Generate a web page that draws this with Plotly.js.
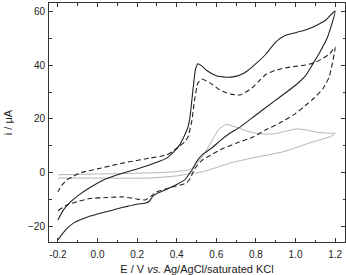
<!DOCTYPE html>
<html>
<head>
<meta charset="utf-8">
<script src="https://cdn.plot.ly/plotly-3.0.1.min.js"></script>
<style>html,body{margin:0;padding:0;background:#fff}#chart{width:346px;height:275px}</style>
</head>
<body>
<div id="chart"></div>
<script>
// Solid black CV (forward then reverse)
const solidE = [-0.2, -0.16, -0.12, -0.05, 0.0, 0.05, 0.1, 0.15, 0.2, 0.24, 0.26, 0.28, 0.3, 0.35, 0.4, 0.44, 0.467, 0.485, 0.5, 0.53, 0.583, 0.62, 0.67, 0.72, 0.8, 0.9, 1.0, 1.05, 1.09, 1.12, 1.16, 1.2,
  1.15, 1.1, 1.05, 1.0, 0.95, 0.9, 0.85, 0.8, 0.76, 0.72, 0.684, 0.65, 0.6, 0.552, 0.525, 0.507, 0.495, 0.482, 0.467, 0.455, 0.44, 0.43, 0.415, 0.38, 0.35, 0.3, 0.2, 0.13, 0.05, -0.04, -0.1, -0.14, -0.17, -0.2];
const solidI = [-24.8, -21, -18.5, -16.3, -15.2, -14.3, -13.3, -12.4, -11.6, -11.2, -10.6, -8.6, -7.6, -6.0, -4.3, -2.6, 0.0, 2.0, 4.1, 6.8, 9.6, 12.0, 14.8, 17.0, 21.5, 27.0, 32.5, 36.0, 40.7, 44.4, 50.0, 60.0,
  56.5, 54.5, 53.0, 52.0, 51.0, 48.5, 44.0, 40.5, 38.0, 36.3, 35.6, 35.5, 36.0, 38.0, 39.8, 40.5, 38.5, 30.7, 20.7, 16.5, 14.0, 12.5, 10.4, 7.4, 5.5, 4.0, 1.5, 0.0, -2.0, -5.5, -8.5, -11.0, -13.5, -17.4];

// Dashed black CV
const dashE = [-0.2, -0.155, -0.1, -0.04, 0.05, 0.13, 0.21, 0.24, 0.27, 0.3, 0.38, 0.45, 0.47, 0.49, 0.53, 0.57, 0.62, 0.7, 0.785, 0.85, 0.92, 1.0, 1.05, 1.09, 1.14, 1.17, 1.2,
  1.17, 1.14, 1.1, 1.05, 1.0, 0.95, 0.9, 0.85, 0.82, 0.78, 0.72, 0.67, 0.62, 0.57, 0.527, 0.507, 0.49, 0.477, 0.457, 0.44, 0.415, 0.38, 0.35, 0.265, 0.13, 0.0, -0.09, -0.13, -0.155, -0.18, -0.2];
const dashI = [-14.0, -11.9, -10.6, -9.5, -9.1, -8.9, -9.8, -10.0, -8.6, -7.0, -5.2, -3.7, -1.8, 1.5, 4.8, 6.5, 8.6, 11.0, 13.3, 16.0, 18.5, 22.0, 25.0, 27.5, 31.4, 35.6, 46.7,
  44.0, 42.6, 41.0, 40.0, 39.5, 39.0, 38.1, 36.5, 34.4, 31.5, 28.9, 29.3, 30.7, 33.3, 34.8, 33.3, 27.0, 19.6, 13.3, 11.5, 10.0, 8.0, 6.7, 5.5, 3.7, 1.5, 0.0, -1.6, -2.6, -4.5, -7.0];

// Grey CV
const greyE = [-0.2, 0.0, 0.2, 0.3, 0.38, 0.43, 0.46, 0.49, 0.52, 0.55, 0.58, 0.61, 0.65, 0.7, 0.77, 0.835, 0.9, 0.95, 1.005, 1.05, 1.1, 1.15, 1.2,
  1.18, 1.17, 1.07, 0.936, 0.785, 0.67, 0.6, 0.53, 0.45, 0.4, 0.26, 0.0, -0.2];
const greyI = [-0.7, -0.4, -0.1, 0.1, 0.4, 0.8, 1.1, 2.5, 5.0, 8.5, 12.2, 16.0, 18.0, 17.0, 15.2, 14.4, 14.6, 15.5, 16.3, 16.0, 15.2, 14.8, 14.6,
  13.6, 13.3, 11.1, 7.8, 5.6, 3.7, 2.0, 0.4, -0.5, -1.1, -1.9, -1.9, -1.9];

const xTickVals = [-0.2, 0.0, 0.2, 0.4, 0.6, 0.8, 1.0, 1.2];
const xTickText = ['-0.2', '0.0', '0.2', '0.4', '0.6', '0.8', '1.0', '1.2'];
const yTickVals = [-20, 0, 20, 40, 60];

const traces = [
  {x: greyE, y: greyI, mode: 'lines', line: {color: '#b4b4b4', width: 1, shape: 'spline', smoothing: 0.5}, hoverinfo: 'skip'},
  {x: dashE, y: dashI, mode: 'lines', line: {color: '#222', width: 1.1, dash: '5px,3px', shape: 'spline', smoothing: 0.5}, hoverinfo: 'skip'},
  {x: solidE, y: solidI, mode: 'lines', line: {color: '#222', width: 1.1, shape: 'spline', smoothing: 0.5}, hoverinfo: 'skip'}
];

const axisCommon = {
  showgrid: false, zeroline: false, showline: true, linecolor: '#333', linewidth: 1, mirror: 'allticks',
  ticks: 'inside', ticklen: 4, tickcolor: '#333', tickwidth: 1,
  tickfont: {family: 'Liberation Sans, Arial, sans-serif', size: 10, color: '#222'}
};

const layout = {
  width: 346, height: 275,
  margin: {l: 49, r: 1, t: 3, b: 33},
  paper_bgcolor: '#fff', plot_bgcolor: '#fff',
  showlegend: false,
  xaxis: Object.assign({}, axisCommon, {
    range: [-0.245, 1.25], tickvals: xTickVals, ticktext: xTickText, ticklabelstandoff: 3,
    minor: {dtick: 0.1, tick0: -0.2, ticks: 'inside', ticklen: 2.5, tickcolor: '#333'},
    title: {text: 'E / V <i>vs.</i> Ag/AgCl/saturated KCl', font: {family: 'Liberation Sans, Arial, sans-serif', size: 11, color: '#222'}, standoff: 7}
  }),
  yaxis: Object.assign({}, axisCommon, {
    range: [-25.6, 63], tickvals: yTickVals, ticklabelstandoff: 1,
    minor: {dtick: 10, tick0: 0, ticks: 'inside', ticklen: 2.5, tickcolor: '#333'},
    title: {text: 'i / μA', font: {family: 'Liberation Sans, Arial, sans-serif', size: 11, color: '#222'}, standoff: 13}
  })
};

Plotly.newPlot('chart', traces, layout, {staticPlot: true, displayModeBar: false});
</script>
</body>
</html>
